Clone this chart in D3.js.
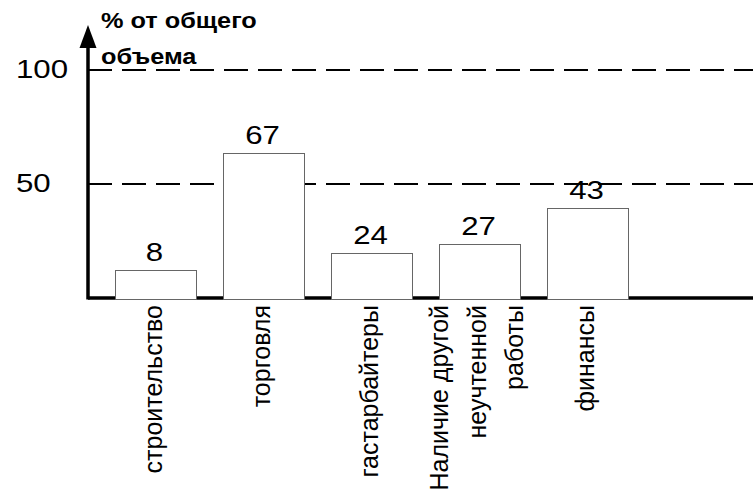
<!DOCTYPE html>
<html>
<head>
<meta charset="utf-8">
<script src="https://cdn.jsdelivr.net/npm/d3@7"></script>
<style>
  body { margin: 0; background: #fff; }
  text { font-family: "Liberation Sans", Arial, sans-serif; fill: #000; }
</style>
</head>
<body>
<div id="chart"></div>
<script>
// data
var categories = [
    ["строительство"],
    ["торговля"],
    ["гастарбайтеры"],
    ["Наличие другой", "неучтенной", "работы"],
    ["финансы"]
];
var barValues = [12.4, 63.5, 19.6, 23.7, 39.6];   // bar heights as drawn
var valueLabels = ["8", "67", "24", "27", "43"];   // numbers printed over the bars
var yTicks = [50, 100];
var yTitle = ["% от общего", "объема"];

var W = 753, H = 495;
var axisX = 88, baseY = 298;

var svg = d3.select("#chart")
    .append("svg")
    .attr("width", W)
    .attr("height", H);

// scales
var x = d3.scaleBand()
    .domain(d3.range(categories.length))
    .range([axisX, 655])
    .paddingInner(0.25)
    .paddingOuter(0.25);

var y = d3.scaleLinear()
    .domain([0, 100])
    .range([baseY, 70]);

// dashed reference lines
svg.selectAll(".grid")
    .data(yTicks)
    .enter()
    .append("line")
    .attr("class", "grid")
    .attr("x1", axisX)
    .attr("x2", W)
    .attr("y1", function(d) { return y(d); })
    .attr("y2", function(d) { return y(d); })
    .attr("stroke", "#000")
    .attr("stroke-width", 2)
    .attr("stroke-dasharray", "24,10");

// tick labels
svg.selectAll(".ytick")
    .data(yTicks)
    .enter()
    .append("text")
    .attr("class", "ytick")
    .attr("transform", function(d) { return "translate(16," + (y(d) + 8) + ") scale(1.25,1)"; })
    .style("font-size", "25px")
    .text(function(d) { return d; });

// axes
svg.append("line")
    .attr("x1", axisX).attr("x2", W)
    .attr("y1", baseY).attr("y2", baseY)
    .attr("stroke", "#000")
    .attr("stroke-width", 3.5);

svg.append("line")
    .attr("x1", axisX).attr("x2", axisX)
    .attr("y1", baseY + 1.5).attr("y2", 46)
    .attr("stroke", "#000")
    .attr("stroke-width", 3.5);

svg.append("path")
    .attr("d", "M" + axisX + ",25 L" + (axisX - 8.5) + ",48 L" + (axisX + 8.5) + ",48 Z")
    .attr("fill", "#000");

// axis title
svg.selectAll(".ytitle")
    .data(yTitle)
    .enter()
    .append("text")
    .attr("class", "ytitle")
    .attr("transform", function(d, i) { return "translate(101," + (28 + i * 36) + ") scale(1.15,1)"; })
    .style("font-size", "22px")
    .style("font-weight", "bold")
    .text(function(d) { return d; });

// bars
svg.selectAll(".bar")
    .data(barValues)
    .enter()
    .append("rect")
    .attr("class", "bar")
    .attr("x", function(d, i) { return x(i) + 0.5; })
    .attr("y", function(d) { return Math.round(y(d)) + 0.5; })
    .attr("width", x.bandwidth())
    .attr("height", function(d) { return baseY + 1 - Math.round(y(d)); })
    .attr("fill", "#fff")
    .attr("stroke", "#666")
    .attr("stroke-width", 1);

// value labels
svg.selectAll(".val")
    .data(valueLabels)
    .enter()
    .append("text")
    .attr("class", "val")
    .attr("text-anchor", "middle")
    .attr("transform", function(d, i) {
        return "translate(" + (x(i) + x.bandwidth() / 2 - 1) + "," + (y(barValues[i]) - 9) + ") scale(1.2,1)";
    })
    .style("font-size", "26px")
    .text(function(d) { return d; });

// category labels, rotated
var cat = svg.selectAll(".cat")
    .data(categories)
    .enter()
    .append("g")
    .attr("class", "cat");

cat.selectAll("text")
    .data(function(d, i) {
        return d.map(function(line, j) {
            return { text: line, i: i, j: j, n: d.length };
        });
    })
    .enter()
    .append("text")
    .attr("text-anchor", "end")
    .attr("transform", function(d) {
        var cx = x(d.i) + x.bandwidth() / 2 + 6 + (d.j - (d.n - 1) / 2) * 37.5;
        return "translate(" + cx + "," + (baseY + 7) + ") rotate(-90)";
    })
    .style("font-size", "25px")
    .text(function(d) { return d.text; });
</script>
</body>
</html>
